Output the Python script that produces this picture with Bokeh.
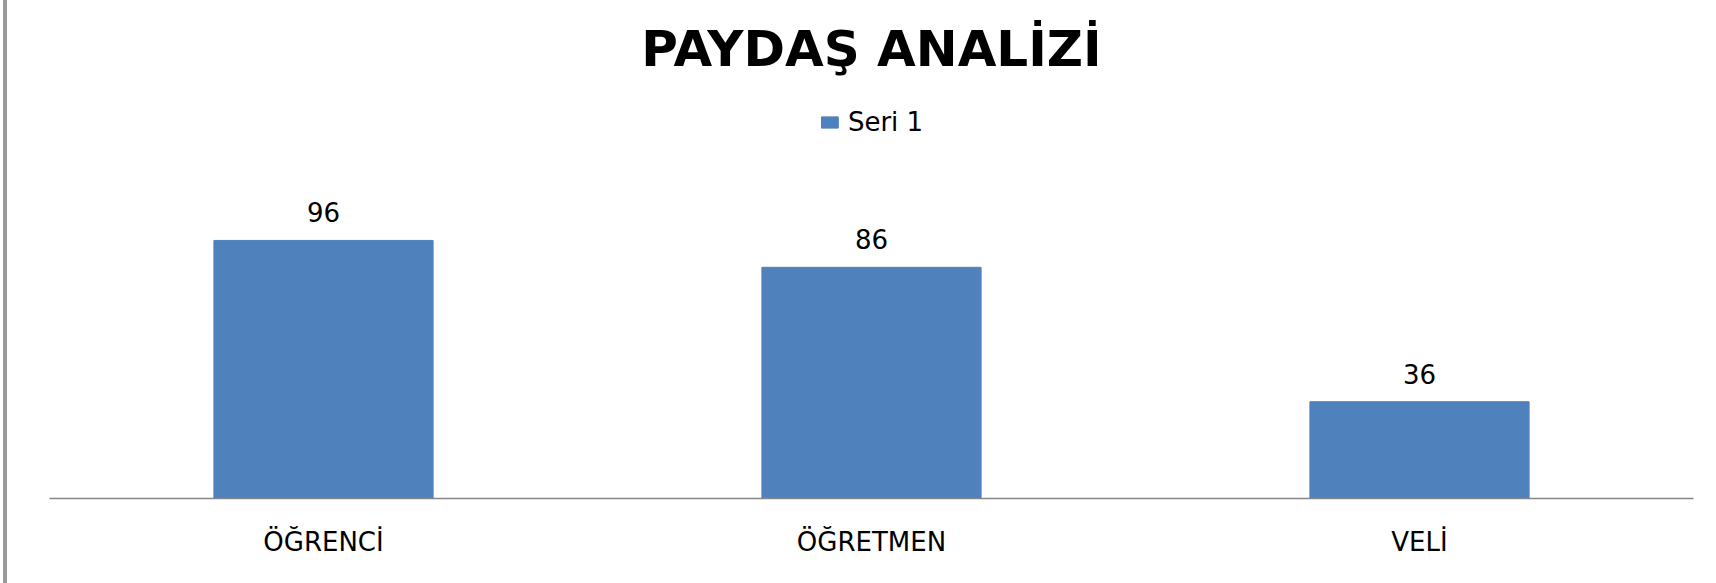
from bokeh.plotting import figure
from bokeh.models import ColumnDataSource, LabelSet, Range1d, Legend, LegendItem, Div
from bokeh.layouts import row
from bokeh.core.properties import value
from bokeh.embed import file_html
from bokeh.resources import INLINE

categories = ["ÖĞRENCİ", "ÖĞRETMEN", "VELİ"]
values = [96, 86, 36]
series_name = "Seri 1"
title_text = "PAYDAŞ ANALİZİ"

BAR = "#4F81BD"
FONT = "DejaVu Sans"

src = ColumnDataSource(dict(cat=categories, val=values, lab=[str(v) for v in values]))

p = figure(x_range=categories, y_range=Range1d(0, 155.5), width=1709, height=583,
           output_backend="svg", toolbar_location=None,
           min_border_left=42, min_border_right=23, min_border_bottom=85, min_border_top=80)

p.title.text = title_text
p.title.align = "center"
p.title.text_font = FONT
p.title.text_font_style = "bold"
p.title.text_font_size = "50px"
p.title.text_color = "#000000"
p.title.standoff = 5

r = p.vbar(x="cat", top="val", width=0.40, source=src, fill_color=BAR, line_color=BAR)

labels = LabelSet(x="cat", y="val", text="lab", source=src, text_align="center",
                  text_baseline="alphabetic", y_offset=18, text_font_size="26px",
                  text_color="#000000", text_font=value(FONT))
p.add_layout(labels)

legend = Legend(items=[LegendItem(label=series_name, renderers=[r])], location="top_center",
                orientation="horizontal", border_line_color=None, background_fill_alpha=0,
                label_text_font=FONT, label_text_font_size="26px", label_text_color="#000000",
                glyph_width=21, glyph_height=14, padding=0, margin=27, label_standoff=8)
p.add_layout(legend)

p.yaxis.visible = False
p.xgrid.grid_line_color = None
p.ygrid.grid_line_color = None
p.outline_line_color = None
p.xaxis.axis_line_color = "#868686"
p.xaxis.axis_line_width = 1.5
p.xaxis.major_tick_line_color = None
p.xaxis.minor_tick_line_color = None
p.xaxis.major_label_text_font = FONT
p.xaxis.major_label_text_font_size = "26px"
p.xaxis.major_label_text_color = "#000000"
p.xaxis.major_label_standoff = 22
p.x_range.range_padding = 0

edge = Div(text="", width=4, height=583, margin=(0, 0, 0, 3),
           styles={"background-color": "#9a9a9a"})

layout = row(edge, p, spacing=0)

open("out.html", "w").write(file_html(layout, INLINE))
